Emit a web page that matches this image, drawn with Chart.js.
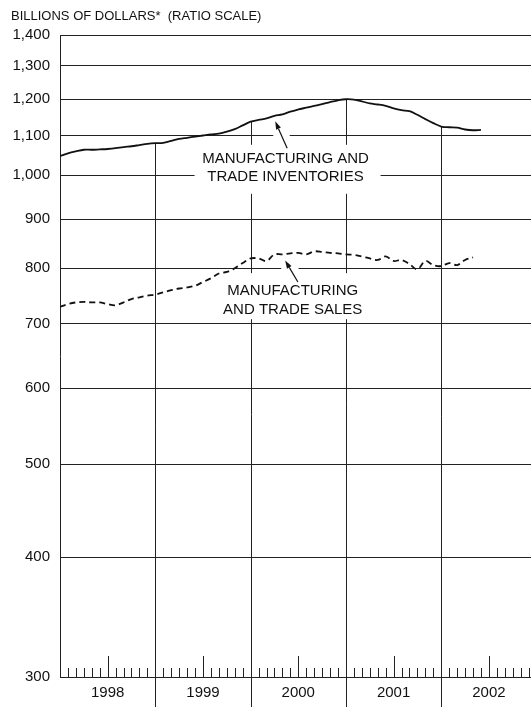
<!DOCTYPE html>
<html><head><meta charset="utf-8">
<script src="https://cdn.jsdelivr.net/npm/chart.js@4.4.1/dist/chart.umd.min.js"></script>
<style>html,body{margin:0;padding:0;background:#fff;}#wrap{position:relative;width:531px;height:707px;}</style>
</head><body><div id="wrap"><canvas id="c" width="531" height="707"></canvas></div>
<script>
// ---- data ----
const monthLabels = [
 '1998-01','1998-02','1998-03','1998-04','1998-05','1998-06','1998-07','1998-08','1998-09','1998-10','1998-11','1998-12',
 '1999-01','1999-02','1999-03','1999-04','1999-05','1999-06','1999-07','1999-08','1999-09','1999-10','1999-11','1999-12',
 '2000-01','2000-02','2000-03','2000-04','2000-05','2000-06','2000-07','2000-08','2000-09','2000-10','2000-11','2000-12',
 '2001-01','2001-02','2001-03','2001-04','2001-05','2001-06','2001-07','2001-08','2001-09','2001-10','2001-11','2001-12',
 '2002-01','2002-02','2002-03','2002-04','2002-05','2002-06'
];
const inventories = [
 1047,1054,1059,1063,1063,1064,1065,1067,1070,1072,1075,1078,
 1080,1081,1086,1091,1094,1097,1100,1103,1105,1110,1117,1127,
 1137,1142,1146,1153,1157,1165,1171,1176,1181,1186,1192,1197,
 1200,1199,1194,1188,1185,1181,1174,1169,1166,1156,1144,1133,
 1124,1122,1121,1116,1114,1115
];
const sales = [
 729,734,737,738,737,737,734,732,737,743,746,749,
 751,755,759,762,764,767,774,781,790,793,800,810,
 819,819,814,827,827,829,830,827,833,832,830,829,
 827,826,823,819,816,823,814,816,808,798,814,806,
 804,810,806,816,821
];
const yTickValues = [300,400,500,600,700,800,900,1000,1100,1200,1300,1400];
const yearLabels = ['1998','1999','2000','2001','2002'];
const titleText = 'BILLIONS OF DOLLARS*  (RATIO SCALE)';
const invLabelLines = ['MANUFACTURING AND','TRADE INVENTORIES'];
const salesLabelLines = ['MANUFACTURING','AND TRADE SALES'];
// annotation anchors in data units: [month, value]
const invLabelAnchor = [28.4, 1018];
const invArrowTip = [27.1, 1138];
const invArrowTail = [28.6, 1067];
const salesLabelAnchor = [29.3, 741];
const salesArrowTip = [28.35, 815];
const salesArrowTail = [29.95, 774];

// ---- build ----
const FONT = '"Liberation Sans", Arial, sans-serif';
const INK = '#111';
const invPts = inventories.map((v,i)=>({x:i,y:v}));
const salesPts = sales.map((v,i)=>({x:i,y:v}));

function arrow(ctx, tail, tip, halo){
  if(halo){
    ctx.save();ctx.strokeStyle='#fff';ctx.lineWidth=15;ctx.lineCap='butt';
    ctx.beginPath();ctx.moveTo(tail[0],tail[1]);ctx.lineTo(tip[0],tip[1]);ctx.stroke();ctx.restore();
    return;
  }
  const ang=Math.atan2(tip[1]-tail[1],tip[0]-tail[0]);
  const L=8,W=2.6;
  const bx=tip[0]-L*Math.cos(ang), by=tip[1]-L*Math.sin(ang);
  ctx.save();ctx.strokeStyle=INK;ctx.fillStyle=INK;ctx.lineWidth=1.2;
  ctx.beginPath();ctx.moveTo(tail[0],tail[1]);ctx.lineTo(bx,by);ctx.stroke();
  ctx.beginPath();ctx.moveTo(tip[0],tip[1]);
  ctx.lineTo(bx+W*Math.sin(ang),by-W*Math.cos(ang));
  ctx.lineTo(bx-W*Math.sin(ang),by+W*Math.cos(ang));
  ctx.closePath();ctx.fill();ctx.restore();
}

const decor = {
  id:'decor',
  beforeDatasetsDraw(chart){
    const ctx=chart.ctx, xs=chart.scales.x, ys=chart.scales.y, ca=chart.chartArea;
    const H=chart.height;
    ctx.save();
    // year boundary lines from inventory line down
    ctx.strokeStyle='#222';ctx.lineWidth=1;
    for(let k=1;k<yearLabels.length;k++){
      const m=12*k;
      const x=Math.round(xs.getPixelForValue(m))+0.5;
      const y0=ys.getPixelForValue(inventories[m]);
      ctx.beginPath();ctx.moveTo(x,y0);ctx.lineTo(x,H);ctx.stroke();
    }
    // month ticks
    for(let m=1;m<=xs.max;m++){
      if(m%12===0) continue;
      const x=Math.round(xs.getPixelForValue(m))+0.5;
      const len=(m%12===6)?21:9;
      ctx.beginPath();ctx.moveTo(x,ca.bottom);ctx.lineTo(x,ca.bottom-len);ctx.stroke();
    }
    // arrow halos
    const P=a=>[xs.getPixelForValue(a[0]),ys.getPixelForValue(a[1])];
    arrow(ctx,P(invArrowTail),P(invArrowTip),true);
    arrow(ctx,P(salesArrowTail),P(salesArrowTip),true);
    // label boxes + text
    function label(anchor,lines,bx0,bx1,by0,by1,gap){
      const [cx,cy]=P(anchor);
      ctx.fillStyle='#fff';
      ctx.fillRect(cx+bx0,cy+by0,bx1-bx0,by1-by0);
      ctx.fillStyle=INK;ctx.font='15px '+FONT;ctx.textAlign='center';ctx.textBaseline='middle';
      const n=lines.length;
      lines.forEach((t,i)=>ctx.fillText(t,cx,cy+(i-(n-1)/2)*gap));
    }
    label(invLabelAnchor,invLabelLines,-91,95,-23,26,17.7);
    label(salesLabelAnchor,salesLabelLines,-71,73,-27,19,18.5);
    arrow(ctx,P(invArrowTail),P(invArrowTip),false);
    arrow(ctx,P(salesArrowTail),P(salesArrowTip),false);
    // year labels
    ctx.fillStyle=INK;ctx.font='15px '+FONT;ctx.textAlign='center';ctx.textBaseline='middle';
    yearLabels.forEach((t,k)=>{ctx.fillText(t,xs.getPixelForValue(12*k+6),ca.bottom+16);});
    // title
    ctx.textAlign='left';ctx.font='13px '+FONT;
    ctx.fillText(titleText,11,16);
    ctx.restore();
  }
};

new Chart(document.getElementById('c'),{
  type:'line',
  data:{datasets:[
    {label:'Manufacturing and trade inventories',data:invPts,borderColor:INK,borderWidth:1.8,pointRadius:0,tension:0.35,fill:false},
    {label:'Manufacturing and trade sales',data:salesPts,borderColor:INK,borderWidth:1.8,borderDash:[6,4],pointRadius:0,tension:0.35,fill:false}
  ]},
  options:{
    responsive:false,animation:false,devicePixelRatio:1,
    layout:{padding:{top:35,bottom:30,left:0,right:0}},
    plugins:{legend:{display:false},tooltip:{enabled:false},title:{display:false}},
    scales:{
      x:{type:'linear',min:0,max:59.3,display:false},
      y:{type:'logarithmic',min:300,max:1400,
        afterBuildTicks:s=>{s.ticks=yTickValues.map(v=>({value:v}));},
        afterFit:s=>{s.width=60;},
        ticks:{callback:v=>Number(v).toLocaleString('en-US'),font:{family:FONT,size:15},color:INK,padding:10,autoSkip:false},
        grid:{color:'#222',lineWidth:1,drawTicks:false},
        border:{display:true,color:'#222',width:1}
      }
    }
  },
  plugins:[decor]
});
</script></body></html>
